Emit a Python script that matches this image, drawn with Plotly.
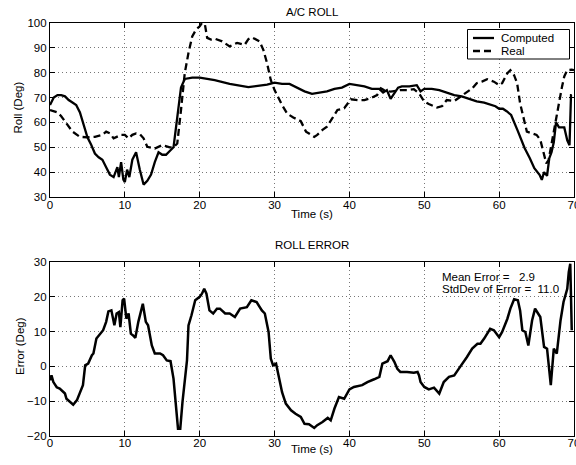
import plotly.graph_objects as go

# ---------------- data ----------------
t_computed = [0, 0.5, 1, 1.5, 2, 2.5, 3, 3.5, 4, 4.5, 5, 5.5, 6, 6.5, 7, 7.5, 8, 8.5, 8.8, 9,
              9.2, 9.5, 9.8, 10, 10.3, 10.6, 11, 11.5, 12, 12.5, 13, 13.5, 14, 14.5, 15, 15.5,
              16, 16.5, 17, 17.5, 18, 19, 20, 22, 24, 25, 26.5, 28, 29, 30, 31, 32, 33, 34, 35,
              36, 37, 38, 39, 40, 41, 42, 43, 44, 44.5, 45, 45.5, 46, 46.5, 47, 48, 49, 49.5,
              50, 51, 52, 53, 54, 55, 56, 57, 58, 59, 59.5, 60, 60.5, 61, 61.6, 62.5, 63.4,
              64.1, 64.7, 65.4, 65.7, 66, 66.4, 66.7, 67, 67.3, 67.6, 68, 68.7, 69.1, 69.4,
              69.6, 69.7]
roll_computed = [67, 70, 71, 71, 70.5, 69, 68, 67, 64, 59, 54, 51, 47.5, 46, 45, 42, 39, 38, 40, 42,
                 38, 44, 37, 36, 41, 38, 45, 48, 41, 35, 36.5, 39, 44, 48, 47, 47,
                 48.5, 50, 62, 74, 77.5, 78, 78, 77, 75.5, 75, 74.2, 74.8, 75.2, 76, 75.5, 75.5, 74, 72.5, 71.5,
                 72, 72.5, 73.5, 74, 75.5, 75, 74.5, 73.5, 73.5, 72, 73, 69.5, 72, 74, 74.5, 74.5, 75, 72.5,
                 73.5, 73.5, 73, 72, 71, 70.5, 69.5, 68.5, 68, 67, 66.5, 65.5, 65.5, 64.5, 63, 56.5, 49.7,
                 45.6, 41.6, 38.9, 36.9, 40, 38.5, 45.6, 48, 52, 60, 58, 58, 52.8, 50.8,
                 71, 71]

t_real = [0, 1, 1.5, 2, 3, 4, 5, 6, 7, 7.5, 8, 8.5, 9, 9.5, 10, 10.5, 11, 11.5, 12, 12.5, 13, 14,
          15, 16, 16.5, 17, 17.5, 18, 18.5, 19, 19.5, 20, 20.3, 20.7, 21, 21.5, 22, 23, 24, 24.5,
          25, 26, 26.5, 27, 28, 28.5, 29, 29.5, 30, 30.5, 31, 31.7, 32.5, 33.5, 34.2, 35.3, 35.7,
          36.4, 37, 37.7, 38.4, 39.3, 40.2, 41.1, 42, 42.8, 43.7, 44.2, 44.6, 45.5, 46.8, 47.7,
          48.6, 49.3, 50, 50.6, 51.7, 52.4, 53, 54, 54.8, 56.4, 57, 57.7, 58.4, 59.3, 60, 60.4,
          61.1, 61.5, 62, 62.4, 62.8, 63.3, 63.7, 64.4, 65, 65.5, 66, 66.3, 66.6, 67.1, 67.5, 68,
          68.4, 68.7, 69.1, 69.7, 70]
roll_real = [65, 64, 62.5, 60.3, 56.3, 54.2, 54, 54.2, 55, 56.3, 55.6, 53.6, 54.3, 55, 55, 53.6, 55,
             55.6, 55.3, 53.6, 50.2, 49.5, 50.9, 50, 50, 51.5, 65, 79.8, 88, 94.6, 97.3, 98.7, 100,
             99.3, 94, 93.3, 93.7, 92.6, 90.6, 91.2, 92, 91.2, 93.5, 94.2, 92.6, 89.2, 83.8, 77, 73,
             70, 67, 63.5, 62, 60.5, 56.3, 54.2, 55, 57, 58.3, 61.6, 65, 65.7, 69.3, 69, 69, 69.7,
             71, 73.7, 73, 72.4, 73, 73, 73.4, 71.7, 68.4, 67.4, 66, 66.6, 69, 68.6, 70.4, 73.7,
             75.8, 76.4, 77.4, 76.4, 75, 75.8, 79.8, 81, 79, 75.8, 67.7, 61, 56.3, 55.6, 55, 53,
             46.2, 43.5, 44.8, 53, 61, 69, 74.4, 78.5, 81, 81.2, 81]

t_error = [0, 0.2, 0.45, 0.9, 1.3, 2, 2.2, 2.7, 3.1, 3.6, 4, 4.4, 4.7, 5.1, 5.6, 5.8, 6.2, 6.7, 7.1,
           7.5, 7.8, 8.2, 8.6, 8.9, 9.2, 9.4, 9.7, 9.9, 10.2, 10.5, 10.8, 11.1, 11.4, 11.8, 12.4,
           12.8, 13.1, 13.6, 14, 14.7, 15.1, 15.6, 16.1, 16.5, 16.8, 17.1, 17.4, 17.7, 18.3, 18.5,
           18.9, 19.4, 20, 20.3, 20.6, 20.9, 21.3, 21.8, 22.3, 22.7, 23.4, 24, 24.7, 25.4, 26.3,
           26.9, 27.6, 28.3, 28.7, 29.2, 29.5, 29.8, 30.2, 30.5, 31, 31.5, 32.2, 32.8, 33.5, 34,
           34.6, 35.3, 35.7, 36.4, 37.1, 37.5, 38, 38.6, 39.3, 40, 40.6, 41.7, 42.4, 43.3, 44,
           44.4, 45.1, 45.5, 46, 46.4, 46.8, 47.7, 48.6, 49.1, 49.3, 49.5, 50, 50.6, 51.3, 52,
           52.6, 53.3, 54, 54.6, 55.1, 55.7, 56.4, 57.1, 57.5, 58, 58.8, 59.3, 60, 60.4, 61.1,
           61.5, 62, 62.5, 62.8, 63.1, 63.5, 63.9, 64.4, 64.8, 65.2, 65.5, 66, 66.4, 66.9, 67.3,
           67.7, 68.2, 68.6, 69.1, 69.3, 69.5, 69.7]
roll_error = [-4, -2.6, -4.5, -6, -6.4, -7.8, -9.3, -10.2, -11, -9.7, -7.4, -5.4, 0.3, 0.8, 3.2, 3.7,
              8, 9.4, 10.4, 12.8, 15.8, 16.1, 11.8, 15.2, 15.6, 11.3, 19, 19.5, 13.7, 15.2, 9.4,
              8.9, 8.2, 12.8, 18, 12.8, 11.8, 6, 3.7, 3.7, 3.2, 1.7, 1.5, -3.5, -12.1, -17.9,
              -17.9, -10.2, 1.7, 11.8, 14.7, 19, 20, 20.9, 22.3, 20.9, 16.1, 15.2, 16.6, 16.6,
              15.2, 15.2, 14.2, 16.6, 17, 19, 18.5, 16.1, 15.2, 9.9, 2.2, 0.3, 0.8, -2.6, -7.4,
              -10.7, -12.6, -13.6, -14.5, -16.5, -16.6, -17.7, -16.9, -16, -14.8, -15.5, -12.1,
              -8.8, -9.3, -6.6, -5.9, -5.4, -4.5, -3.7, -3, 0.8, 1.5, 3.2, 1.3, -0.7, -1.6, -1.6,
              -1.8, -1.6, -2.6, -4.5, -5.9, -6.6, -6.1, -7.8, -4.5, -3, -2.6, -0.7, 0.8, 2.7, 5.1,
              6.5, 6.5, 8, 10.8, 10.4, 8.4, 9.9, 13.7, 16.6, 19.3, 19, 16.1, 10.4, 9.9, 6, 13.2,
              16.6, 15.2, 14.2, 5.6, 5.1, -5.4, 5.1, 3.7, 13.2, 18.5, 22.3, 27.1, 29.5, 10.4]

x_ticks = [0, 10, 20, 30, 40, 50, 60, 70]
roll_ticks = [30, 40, 50, 60, 70, 80, 90, 100]
error_ticks = [-20, -10, 0, 10, 20, 30]
series_names = ["Computed", "Real"]

assert len(t_computed) == len(roll_computed)
assert len(t_real) == len(roll_real)
assert len(t_error) == len(roll_error)

FONT = "Liberation Sans, Arial, Helvetica, sans-serif"
FS = 11.5
W, H = 576, 465
DASH = "7px,4px"

def px_x(p):
    return p / W

def px_y(p):
    return (H - p) / H

fig = go.Figure()
fig.add_trace(go.Scatter(x=t_computed, y=roll_computed, mode="lines", name=series_names[0],
                         line=dict(color="black", width=2.3), xaxis="x", yaxis="y"))
fig.add_trace(go.Scatter(x=t_real, y=roll_real, mode="lines", name=series_names[1],
                         line=dict(color="black", width=2.3, dash=DASH), xaxis="x", yaxis="y"))
fig.add_trace(go.Scatter(x=t_error, y=roll_error, mode="lines", name="Error",
                         line=dict(color="black", width=2.5), xaxis="x2", yaxis="y2"))

xdom = [px_x(50), px_x(574)]
axis_common = dict(
    showline=True, linecolor="black", linewidth=1.2, mirror="allticks",
    ticks="inside", ticklen=5, tickwidth=1, tickcolor="black",
    showgrid=True, gridcolor="#777777", gridwidth=1, griddash="1px,3px",
    zeroline=False, tickfont=dict(family=FONT, size=FS, color="black"),
    ticklabeloverflow="allow", automargin=False,
)

fig.update_layout(
    width=W, height=H,
    margin=dict(l=0, r=0, t=0, b=0, autoexpand=False),
    paper_bgcolor="white", plot_bgcolor="white",
    font=dict(family=FONT, size=FS, color="black"),
    xaxis=dict(domain=xdom, range=[0, 70], tickvals=x_ticks, anchor="y", ticklabelstandoff=-3,
               **axis_common),
    yaxis=dict(domain=[px_y(197), px_y(23)], range=[30, 100], tickvals=roll_ticks, anchor="x",
               **axis_common),
    xaxis2=dict(domain=xdom, range=[0, 70], tickvals=x_ticks, anchor="y2", ticklabelstandoff=-4,
                **axis_common),
    yaxis2=dict(domain=[px_y(436), px_y(262)], range=[-20, 30], tickvals=error_ticks, anchor="x2",
                **axis_common),
    showlegend=False,
)

# legend box (drawn as in the original: opaque box with line samples)
fig.add_shape(type="rect", xref="paper", yref="paper",
              x0=px_x(467.5), x1=px_x(569.5), y0=px_y(59), y1=px_y(29.5),
              fillcolor="white", line=dict(color="black", width=1), layer="above")
fig.add_shape(type="line", xref="paper", yref="paper",
              x0=px_x(473), x1=px_x(494), y0=px_y(38), y1=px_y(38),
              line=dict(color="black", width=2.3), layer="above")
fig.add_shape(type="line", xref="paper", yref="paper",
              x0=px_x(473), x1=px_x(494), y0=px_y(51), y1=px_y(51),
              line=dict(color="black", width=2.3, dash=DASH), layer="above")
for name, yy in zip(series_names, [38, 51]):
    fig.add_annotation(xref="paper", yref="paper", showarrow=False, xanchor="left",
                       yanchor="middle", x=px_x(499), y=px_y(yy), text=name,
                       font=dict(family=FONT, size=FS, color="black"))

ann = [
    dict(text="A/C ROLL", x=px_x(312), y=px_y(12)),
    dict(text="ROLL ERROR", x=px_x(312), y=px_y(245)),
    dict(text="Time (s)", x=px_x(311.5), y=px_y(214)),
    dict(text="Time (s)", x=px_x(311.5), y=px_y(449)),
    dict(text="Roll (Deg)", x=px_x(17.5), y=px_y(108), textangle=-90),
    dict(text="Error (Deg)", x=px_x(20), y=px_y(346), textangle=-90),
]
for a in ann:
    fig.add_annotation(xref="paper", yref="paper", showarrow=False,
                       xanchor="center", yanchor="middle",
                       font=dict(family=FONT, size=FS, color="black"), **a)

fig.add_annotation(xref="paper", yref="paper", showarrow=False, xanchor="left", yanchor="middle",
                   x=px_x(440), y=px_y(277), text="Mean Error =\u00a0\u00a0\u00a02.9",
                   font=dict(family=FONT, size=FS, color="black"))
fig.add_annotation(xref="paper", yref="paper", showarrow=False, xanchor="left", yanchor="middle",
                   x=px_x(440), y=px_y(289), text="StdDev of Error =\u00a0\u00a011.0",
                   font=dict(family=FONT, size=FS, color="black"))

fig.write_html("out.html")
